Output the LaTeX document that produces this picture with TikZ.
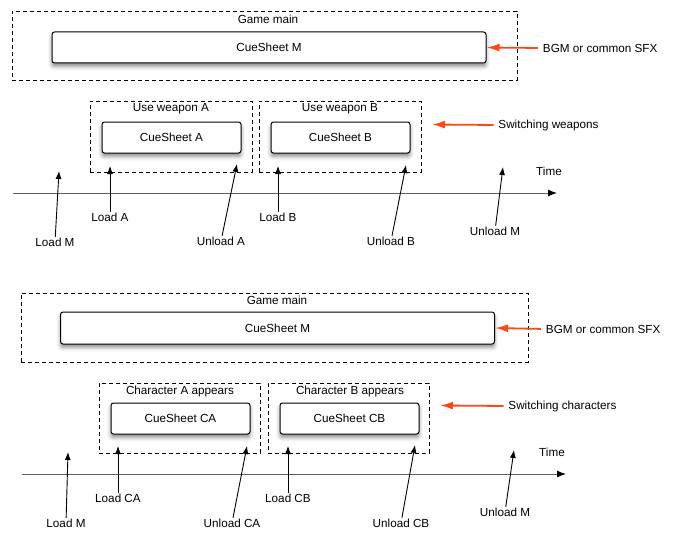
\documentclass[tikz,border=0pt]{standalone}
\usepackage{fontspec}
\setmainfont{Liberation Sans}
\usetikzlibrary{arrows.meta,shadows.blur}

\definecolor{notered}{RGB}{252,72,22}
\definecolor{axisgray}{RGB}{95,95,95}

\tikzset{
  phase/.style={draw, dash pattern=on 4pt off 3pt, line width=0.9pt, inner sep=0pt},
  cuesheet/.style={draw, fill=white, rounded corners=2.5pt, line width=1pt, inner sep=0pt,
    font=\fontsize{11.7}{14}\selectfont,
    blur shadow={shadow xshift=0pt, shadow yshift=-3.5pt, shadow blur radius=4pt, shadow opacity=45}},
  lbl/.style={inner sep=0.75pt, font=\fontsize{11.7}{14}\selectfont},
  event/.style={-{Latex[length=8pt,width=6pt]}, line width=0.9pt},
  note/.style={-{Latex[length=13pt,width=8pt]}, draw=notered, line width=1.8pt, shorten <=4pt},
  timeline/.style={draw=axisgray, line width=1pt, -{Latex[length=9pt,width=7pt,color=black]}}
}

\begin{document}
\begin{tikzpicture}[x=1pt,y=1pt,yscale=-1,xscale=1]
\useasboundingbox (0,0) rectangle (675,543);

%%%% weapons

%Shape: Rectangle [game main]
\node[phase, minimum width=505, minimum height=69] (gameT) at (264.5,45.5) {};
%Shape: Rectangle [cue sheet M]
\node[cuesheet, minimum width=434, minimum height=31] (cueMT) at (269,47.5) {CueSheet M};
%Shape: Rectangle [weapon A]
\node[phase, minimum width=162, minimum height=71] (useA) at (171,136.5) {};
\node[cuesheet, minimum width=139, minimum height=31] (cueA) at (171.5,137.5) {CueSheet A};
%Shape: Rectangle [weapon B]
\node[phase, minimum width=162, minimum height=71] (useB) at (340,136.5) {};
\node[cuesheet, minimum width=139, minimum height=31] (cueB) at (340.5,137.5) {CueSheet B};

% Text Node
\node[lbl] (gmT) at (268,19) {Game main};
% Text Node
\node[lbl] (wAt) at (171,109) {Use weapon A};
% Text Node
\node[lbl] (wBt) at (340,109) {Use weapon B};
% Text Node
\node[lbl, anchor=west] (bgmT) at (542,48) {BGM or common SFX};
% Text Node
\node[lbl, anchor=west] (swT) at (497.5,125) {Switching weapons};
% Text Node
\node[lbl] (timeT) at (549,171) {Time};

%Straight Lines [time]
\coordinate (t0T) at (13,193);
\coordinate (t1T) at (557,193);
\draw[timeline] (t0T) -- (t1T);

%Straight Lines [notes]
\coordinate (swTip) at (432,124.5);
\draw[note] (bgmT.west) -- (cueMT.east);
\draw[note] (swT.west) -- (swTip);

% Text Node
\node[lbl] (lmT) at (55,242) {Load M};
\node[lbl] (laT) at (110,217) {Load A};
\node[lbl] (uaT) at (221,241) {Unload A};
\node[lbl] (lbT) at (278,217) {Load B};
\node[lbl] (ubT) at (391,241) {Unload B};
\node[lbl] (umT) at (495,231) {Unload M};

%Straight Lines [events]
\coordinate (lmTtip) at (59,171);
\coordinate (laTtip) at (110,166);
\coordinate (uaTtip) at (237,164);
\coordinate (lbTtip) at (278,166);
\coordinate (ubTtip) at (406,165);
\coordinate (umTtip) at (503,167);
\draw[event] (lmT) -- (lmTtip);
\draw[event] (laT) -- (laTtip);
\draw[event] (uaT) -- (uaTtip);
\draw[event] (lbT) -- (lbTtip);
\draw[event] (ubT) -- (ubTtip);
\draw[event] (umT) -- (umTtip);

%%%% characters

%Shape: Rectangle [game main]
\node[phase, minimum width=507, minimum height=69] (gameB) at (274.5,327.5) {};
%Shape: Rectangle [cue sheet M]
\node[cuesheet, minimum width=434, minimum height=32] (cueMB) at (277.5,328) {CueSheet M};
%Shape: Rectangle [character A]
\node[phase, minimum width=161, minimum height=70] (charA) at (179.5,418) {};
\node[cuesheet, minimum width=139, minimum height=31] (cueCA) at (180.5,418.5) {CueSheet CA};
%Shape: Rectangle [character B]
\node[phase, minimum width=161, minimum height=70] (charB) at (348.5,418) {};
\node[cuesheet, minimum width=139, minimum height=31] (cueCB) at (349.5,418.5) {CueSheet CB};

% Text Node
\node[lbl] (gmB) at (277,300) {Game main};
% Text Node
\node[lbl] (cAt) at (180,391) {Character A appears};
% Text Node
\node[lbl] (cBt) at (350,391) {Character B appears};
% Text Node
\node[lbl, anchor=west] (bgmB) at (545,329) {BGM or common SFX};
% Text Node
\node[lbl, anchor=west] (scB) at (507.5,406) {Switching characters};
% Text Node
\node[lbl] (timeB) at (552,452) {Time};

%Straight Lines [time]
\coordinate (t0B) at (22,474);
\coordinate (t1B) at (566,474);
\draw[timeline] (t0B) -- (t1B);

%Straight Lines [notes]
\coordinate (scTip) at (440,405.5);
\draw[note] (bgmB.west) -- (cueMB.east);
\draw[note] (scB.west) -- (scTip);

% Text Node
\node[lbl] (lmB) at (66,523) {Load M};
\node[lbl] (lcaB) at (118,498) {Load CA};
\node[lbl] (ucaB) at (232,523) {Unload CA};
\node[lbl] (lcbB) at (288,498) {Load CB};
\node[lbl] (ucbB) at (401,523) {Unload CB};
\node[lbl] (umB) at (505,512) {Unload M};

%Straight Lines [events]
\coordinate (lmBtip) at (68,452);
\coordinate (lcaBtip) at (118,446);
\coordinate (ucaBtip) at (247,446);
\coordinate (lcbBtip) at (288,446);
\coordinate (ucbBtip) at (415,445);
\coordinate (umBtip) at (514,450);
\draw[event] (lmB) -- (lmBtip);
\draw[event] (lcaB) -- (lcaBtip);
\draw[event] (ucaB) -- (ucaBtip);
\draw[event] (lcbB) -- (lcbBtip);
\draw[event] (ucbB) -- (ucbBtip);
\draw[event] (umB) -- (umBtip);

\end{tikzpicture}
\end{document}
